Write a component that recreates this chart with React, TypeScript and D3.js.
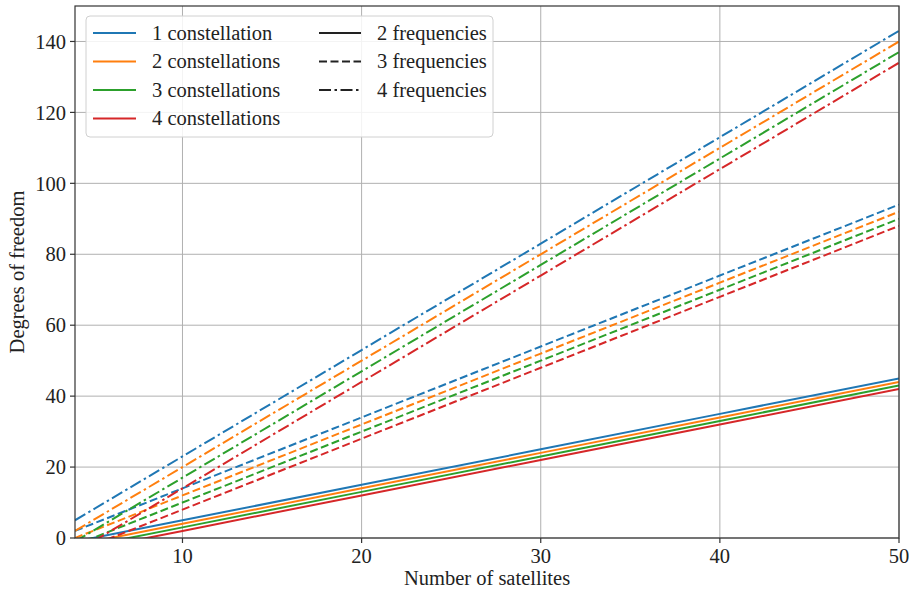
import React from 'react';
import * as d3 from 'd3';

// number of satellites where values were read
const satellites = [4, 10, 20, 30, 40, 50];

const constellations = ['1 constellation', '2 constellations', '3 constellations', '4 constellations'];
const frequencies = ['2 frequencies', '3 frequencies', '4 frequencies'];

// degrees of freedom, one array per (frequencies, constellations)
const dof2f1c = [-1, 5, 15, 25, 35, 45];
const dof2f2c = [-2, 4, 14, 24, 34, 44];
const dof2f3c = [-3, 3, 13, 23, 33, 43];
const dof2f4c = [-4, 2, 12, 22, 32, 42];
const dof3f1c = [2, 14, 34, 54, 74, 94];
const dof3f2c = [0, 12, 32, 52, 72, 92];
const dof3f3c = [-2, 10, 30, 50, 70, 90];
const dof3f4c = [-4, 8, 28, 48, 68, 88];
const dof4f1c = [5, 23, 53, 83, 113, 143];
const dof4f2c = [2, 20, 50, 80, 110, 140];
const dof4f3c = [-1, 17, 47, 77, 107, 137];
const dof4f4c = [-4, 14, 44, 74, 104, 134];

const xTicks = [10, 20, 30, 40, 50];
const yTicks = [0, 20, 40, 60, 80, 100, 120, 140];

const colors = ['#1f77b4', '#ff7f0e', '#2ca02c', '#d62728'];
const dashes = ['', '8,3.5', '12,3.5,2.5,3.5'];

const series = [
  [dof2f1c, dof2f2c, dof2f3c, dof2f4c],
  [dof3f1c, dof3f2c, dof3f3c, dof3f4c],
  [dof4f1c, dof4f2c, dof4f3c, dof4f4c],
];

const W = 909, H = 592;
const m = { left: 75, right: 899, top: 6, bottom: 538 };
const font = '"Liberation Serif", "Times New Roman", serif';
const fs = 20.5;

export default function App() {
  const x = d3.scaleLinear().domain([4, 50]).range([m.left, m.right]);
  const y = d3.scaleLinear().domain([0, 150]).range([m.bottom, m.top]);
  const line = d3.line<number>().x((_, i) => x(satellites[i])).y(d => y(d));

  return (
    <svg width={W} height={H} style={{ position: 'absolute', left: 0, top: 0, background: '#fff' }}
      fontFamily={font}>
      <defs>
        <clipPath id="plot">
          <rect x={m.left} y={m.top} width={m.right - m.left} height={m.bottom - m.top} />
        </clipPath>
      </defs>
      {/* grid */}
      {xTicks.map(t => (
        <line key={'gx' + t} x1={x(t)} x2={x(t)} y1={m.top} y2={m.bottom} stroke="#b0b0b0" strokeWidth={1} />
      ))}
      {yTicks.map(t => (
        <line key={'gy' + t} x1={m.left} x2={m.right} y1={y(t)} y2={y(t)} stroke="#b0b0b0" strokeWidth={1} />
      ))}
      {/* lines */}
      <g clipPath="url(#plot)">
        {series.map((group, fi) => group.map((vals, ci) => (
          <path key={fi + '-' + ci} d={line(vals) || ''} fill="none" stroke={colors[ci]}
            strokeWidth={2} strokeDasharray={dashes[fi] || undefined} />
        )))}
      </g>
      {/* frame */}
      <rect x={m.left} y={m.top} width={m.right - m.left} height={m.bottom - m.top}
        fill="none" stroke="#333" strokeWidth={1.2} />
      {/* ticks */}
      {xTicks.map(t => (
        <g key={'tx' + t}>
          <line x1={x(t)} x2={x(t)} y1={m.bottom} y2={m.bottom + 5} stroke="#333" strokeWidth={1.2} />
          <text x={x(t)} y={m.bottom + 25} textAnchor="middle" fontSize={fs} fill="#222">{t}</text>
        </g>
      ))}
      {yTicks.map(t => (
        <g key={'ty' + t}>
          <line x1={m.left - 5} x2={m.left} y1={y(t)} y2={y(t)} stroke="#333" strokeWidth={1.2} />
          <text x={m.left - 9} y={y(t)} dy="0.35em" textAnchor="end" fontSize={fs} fill="#222">{t}</text>
        </g>
      ))}
      <text x={(m.left + m.right) / 2} y={585} textAnchor="middle" fontSize={fs} fill="#222">Number of satellites</text>
      <text transform={`translate(24,${(m.top + m.bottom) / 2}) rotate(-90)`} textAnchor="middle"
        fontSize={fs} fill="#222">Degrees of freedom</text>
      {/* legend */}
      <g>
        <rect x={86} y={16} width={407} height={121} rx={4} fill="#fff" fillOpacity={0.85}
          stroke="#d0d0d0" strokeWidth={1} />
        {constellations.map((c, i) => (
          <g key={c} transform={`translate(0,${33 + i * 28.5})`}>
            <line x1={93} x2={136} y1={0} y2={0} stroke={colors[i]} strokeWidth={2} />
            <text x={152} y={0} dy="0.33em" fontSize={fs} fill="#222">{c}</text>
          </g>
        ))}
        {frequencies.map((f, i) => (
          <g key={f} transform={`translate(0,${33 + i * 28.5})`}>
            <line x1={319} x2={361} y1={0} y2={0} stroke="#222" strokeWidth={2}
              strokeDasharray={dashes[i] || undefined} />
            <text x={377} y={0} dy="0.33em" fontSize={fs} fill="#222">{f}</text>
          </g>
        ))}
      </g>
    </svg>
  );
}
